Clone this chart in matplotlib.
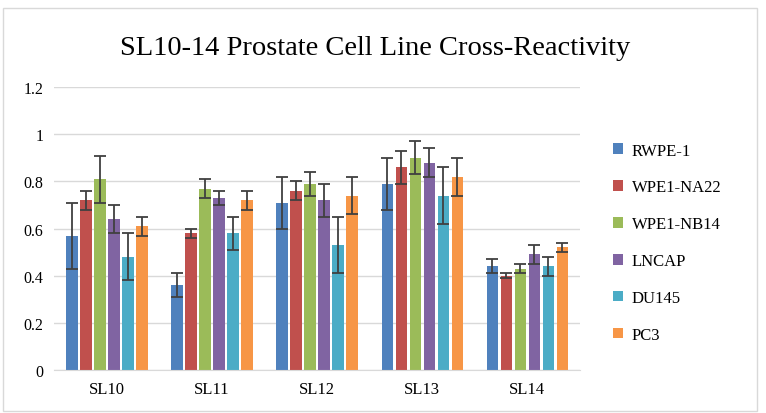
import numpy as np
import matplotlib
matplotlib.use("Agg")
import matplotlib.pyplot as plt
from matplotlib.patches import Rectangle

groups = ['SL10', 'SL11', 'SL12', 'SL13', 'SL14']
lines = ['RWPE-1', 'WPE1-NA22', 'WPE1-NB14', 'LNCAP', 'DU145', 'PC3']
colors = ['#4F81BD', '#C0504D', '#9BBB59', '#8064A2', '#4BACC6', '#F79646']

rwpe1 = [0.57, 0.36, 0.71, 0.79, 0.44]
na22 = [0.72, 0.58, 0.76, 0.86, 0.40]
nb14 = [0.81, 0.77, 0.79, 0.90, 0.43]
lncap = [0.64, 0.73, 0.72, 0.88, 0.49]
du145 = [0.48, 0.58, 0.53, 0.74, 0.44]
pc3 = [0.61, 0.72, 0.74, 0.82, 0.52]

rwpe1_err = [0.14, 0.05, 0.11, 0.11, 0.03]
na22_err = [0.04, 0.02, 0.04, 0.07, 0.01]
nb14_err = [0.10, 0.04, 0.05, 0.07, 0.02]
lncap_err = [0.06, 0.03, 0.07, 0.06, 0.04]
du145_err = [0.10, 0.07, 0.12, 0.12, 0.04]
pc3_err = [0.04, 0.04, 0.08, 0.08, 0.02]

values = [rwpe1, na22, nb14, lncap, du145, pc3]
errors = [rwpe1_err, na22_err, nb14_err, lncap_err, du145_err, pc3_err]

serif = ['Liberation Serif', 'DejaVu Serif']

fig = plt.figure(figsize=(7.66, 4.14), dpi=100)
ax = fig.add_axes([0.071, 0.104, 0.686, 0.683])

x = np.arange(len(groups))
pitch = 0.8 / len(lines)
for i, (name, vals, errs) in enumerate(zip(lines, values, errors)):
    pos = x - 0.4 + pitch * (i + 0.5)
    ax.bar(pos, vals, width=0.108, color=colors[i], label=name, zorder=2)
    ax.errorbar(pos, vals, yerr=errs, fmt='none', ecolor='#404040',
                elinewidth=1.3, capsize=4.3, capthick=1.3, zorder=3)

ax.set_xlim(-0.5, len(groups) - 0.5)
ax.set_ylim(0, 1.2)
ax.set_yticks(np.arange(0, 1.21, 0.2))
ax.set_yticklabels(['0', '0.2', '0.4', '0.6', '0.8', '1', '1.2'], family=serif, fontsize=11.5)
ax.set_xticks(x)
ax.set_xticklabels(groups, family=serif, fontsize=12)
ax.tick_params(length=0, pad=8)
ax.grid(axis='y', color='#D9D9D9', lw=1, zorder=0)
for s in ['top', 'right', 'left']:
    ax.spines[s].set_visible(False)
ax.spines['bottom'].set_color('#D9D9D9')

fig.text(0.49, 0.884, 'SL10-14 Prostate Cell Line Cross-Reactivity',
         ha='center', va='center', family=serif, fontsize=20.5)

leg = ax.legend(loc='center left', bbox_to_anchor=(1.035, 0.45), frameon=False,
                prop={'family': serif, 'size': 12}, handlelength=0.6,
                handleheight=0.6, labelspacing=1.25, handletextpad=0.5)

fig.patches.append(Rectangle((0.004, 0.005), 0.984, 0.973, transform=fig.transFigure,
                             fill=False, edgecolor='#D9D9D9', lw=1))

fig.savefig('out.png', dpi=100)
